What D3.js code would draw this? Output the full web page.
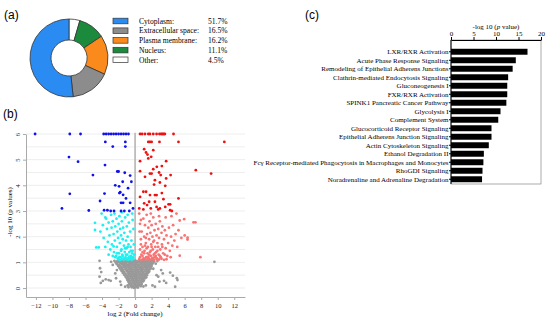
<!DOCTYPE html>
<html>
<head>
<meta charset="utf-8">
<script src="https://cdn.jsdelivr.net/npm/d3@7"></script>
<style>
  body { margin: 0; background: #fff; }
  svg { display: block; font-family: "Liberation Serif", "Times New Roman", serif; }
  .panel-label { font-family: "Liberation Sans", Arial, sans-serif; font-size: 12px; }
</style>
</head>
<body>
<svg id="chart" width="550" height="324"></svg>
<script>
// ---- data ----
// (a) subcellular location
var locNames = ["Cytoplasm:", "Extracellular space:", "Plasma membrane:", "Nucleus:", "Other:"];
var locValues = [51.7, 16.5, 16.2, 11.1, 4.5];
var locColors = ["#2a8bf2", "#8c8c8c", "#fb8a1c", "#1b8a3c", "#ffffff"];

// (b) volcano plot, [log2 fold change, -log10 p]
var upStrong = [[0.6,6],[0.85,6],[1.2,6],[1.6,6],[1.8,6],[2.2,6],[2.6,6],[2.95,6],[3.15,6],[3.3,6],[3.45,6],[3.6,6],[4.65,6],
  [1.6,5.69],[1.8,5.69],[2.0,5.69],[2.95,5.69],[5.25,5.69],[10.8,5.69],[1.1,5.41],[1.33,5.28],[1.5,5.2],[2.2,5.37],
  [1.95,5.11],[1.6,5.05],[3.76,4.94],[3.24,4.75],[2.63,4.72],[0.6,4.94],[0.6,4.55],[2.2,4.63],[1.8,4.46],[2.0,4.46],
  [2.9,4.5],[3.1,4.4],[4.3,4.4],[7.35,4.59],[9.2,4.46],[1.2,4.33],[3.76,4.27],[2.4,4.2],[2.3,4.03],[3.0,4.11],[3.65,3.98],
  [1.0,3.75],[1.33,3.75],[1.8,3.62],[2.4,3.62],[2.6,3.62],[0.6,3.55],[3.24,3.7],[3.43,3.46],[5.25,3.49],[1.1,3.3],
  [1.45,3.23],[1.7,3.36],[2.4,3.36],[2.6,3.16],[3.0,3.1],[2.8,3.06],[4.05,3.26],[4.24,3.26],[3.65,3.16],[0.5,3.1],
  [1.0,3.06],[1.9,3.1],[4.24,3.03],[4.45,3.0]];
var upWeak = [[0.5,2.9],[0.6,2.5],[0.7,1.9],[0.75,1.3],[0.8,2.2],[0.9,1.6],[1.0,2.7],[1.05,1.15],[1.1,2.0],[1.15,1.45],
  [1.2,2.45],[1.3,1.75],[1.35,1.2],[1.4,2.85],[1.45,2.1],[1.5,1.35],[1.55,1.6],[1.6,2.35],[1.65,1.15],[1.7,1.9],[1.75,2.6],
  [1.8,1.4],[1.85,2.15],[1.9,1.25],[1.95,1.7],[2.0,2.45],[2.05,1.15],[2.1,2.0],[2.15,1.5],[2.2,2.75],[2.25,1.3],[2.3,1.85],
  [2.35,2.25],[2.4,1.2],[2.45,1.6],[2.5,2.5],[2.55,1.4],[2.6,2.05],[2.65,1.15],[2.7,1.75],[2.8,2.3],[2.85,1.3],[2.9,1.95],
  [3.0,2.6],[3.05,1.5],[3.1,1.2],[3.2,2.15],[3.25,1.7],[3.3,2.4],[3.4,1.35],[3.5,1.9],[3.6,2.25],[3.7,1.55],[3.8,2.05],
  [3.9,1.25],[4.0,1.75],[4.1,2.35],[4.2,1.45],[4.35,2.0],[4.5,1.65],[4.6,2.45],[4.75,1.85],[4.9,2.1],[5.1,1.6],[5.25,2.25],
  [5.4,2.63],[5.4,1.26],[5.6,1.95],[5.94,2.68],[6.0,2.05],[6.35,1.96],[6.35,1.89],[7.07,2.56],[7.3,2.56],[7.9,1.2],
  [0.5,1.12],[0.8,1.1],[1.0,1.13],[1.25,1.11],[1.5,1.14],[1.75,1.1],[2.0,1.12],[2.3,1.1],[2.6,1.13],[2.9,1.11],[3.2,1.14],
  [3.5,1.1],[3.8,1.12],[0.6,1.5],[0.9,1.25],[1.2,1.65],[1.7,1.3],[2.2,1.8],[2.7,1.45],[3.3,1.6],[3.6,1.3],[4.3,1.2],
  [0.55,2.2],[0.7,2.65],[1.9,2.9],[2.9,2.8],[4.4,2.8],[5.0,2.9],[3.7,2.75],[0.6,1.2],[1.1,1.35],[1.4,1.55],[1.9,1.45],
  [2.4,1.35],[2.8,1.6],[3.0,1.25],[0.7,1.7],[1.3,1.95],[2.0,1.6],[2.5,1.25],[1.6,1.22],[2.2,1.18],[0.9,1.4]];
var downStrong = [[-12.1,6],[-7.9,6],[-6.6,6],[-3.8,6],[-3.5,6],[-3.2,6],[-2.9,6],[-2.6,6],[-2.3,6],[-2.0,6],[-1.7,6],
  [-1.4,6],[-1.1,6],[-0.8,6],[-3.6,5.69],[-1.18,5.69],[-1.18,5.51],[-2.7,5.51],[-8.0,5.1],[-6.9,4.92],[-3.64,4.79],
  [-2.15,4.54],[-2.0,4.54],[-1.25,4.49],[-0.6,4.38],[-5.1,4.4],[-1.5,4.14],[-0.45,4.14],[-2.4,4.0],[-1.94,3.96],
  [-0.85,3.89],[-1.8,3.73],[-1.9,3.7],[-7.9,3.67],[-3.7,3.68],[-1.45,3.63],[-1.1,3.49],[-4.24,3.39],[-1.7,3.32],
  [-1.45,3.32],[-0.6,3.32],[-8.85,3.1],[-5.6,3.02],[-3.75,3.03],[-3.35,3.03],[-2.95,3.0],[-2.55,3.0],[-1.7,3.0],
  [-1.3,3.0],[-0.25,3.1],[-0.7,3.0]];
var downWeak = [[-4.85,2.54],[-4.85,2.26],[-4.7,1.58],[-4.4,1.58],[-4.2,2.2],[-3.9,2.45],[-3.8,1.95],[-3.6,1.6],[-3.5,2.7],
  [-3.4,2.3],[-3.3,1.8],[-3.2,2.55],[-3.1,2.05],[-3.0,1.5],[-2.9,2.85],[-2.85,2.35],[-2.8,1.7],[-2.7,2.6],[-2.6,2.1],
  [-2.55,1.4],[-2.5,2.9],[-2.45,1.85],[-2.4,2.4],[-2.3,1.25],[-2.25,2.7],[-2.2,1.6],[-2.15,2.2],[-2.1,1.15],[-2.05,1.95],
  [-2.0,2.5],[-1.95,1.35],[-1.9,2.8],[-1.85,1.75],[-1.8,2.3],[-1.75,1.2],[-1.7,2.05],[-1.65,1.5],[-1.6,2.6],[-1.55,1.3],
  [-1.5,1.9],[-1.45,2.35],[-1.4,1.15],[-1.35,1.65],[-1.3,2.15],[-1.25,1.4],[-1.2,2.75],[-1.15,1.2],[-1.1,1.85],
  [-1.05,1.55],[-1.0,2.4],[-0.95,1.3],[-0.9,2.0],[-0.85,1.15],[-0.8,1.7],[-0.75,2.55],[-0.7,1.4],[-0.65,1.2],[-0.6,2.2],
  [-0.55,1.6],[-0.5,1.25],[-0.45,1.85],[-0.4,1.15],[-0.35,2.9],[-0.3,1.45],[-0.25,1.2],[-0.2,2.3],[-0.15,1.7],[-0.1,1.3],
  [-2.0,1.12],[-1.8,1.1],[-1.6,1.13],[-1.4,1.11],[-1.2,1.14],[-1.0,1.12],[-0.8,1.1],[-0.6,1.13],[-0.4,1.11],[-0.2,1.14],
  [-2.4,1.2],[-2.6,1.62],[-3.6,2.75],[-4.05,2.9],[-1.6,2.95],[-0.9,2.85],[-0.3,2.65],[-1.9,1.2],[-1.5,1.25],[-1.1,1.3],
  [-0.7,1.22],[-0.35,1.35],[-2.2,1.35],[-1.7,1.45],[-1.2,1.55],[-0.5,1.45],[-2.7,1.25],[-3.2,1.3],[-0.9,1.6]];
var notSig = [
  [-2.5,1.06],[-2.2,1.04],[-1.95,1.07],[-1.7,1.05],[-1.45,1.07],[-1.2,1.04],[-0.95,1.06],[-0.7,1.04],[-0.45,1.07],[-0.2,1.05],
  [0.05,1.07],[0.3,1.04],[0.55,1.06],[0.8,1.05],[1.05,1.07],[1.3,1.04],[1.55,1.06],[1.8,1.05],[2.05,1.07],[2.3,1.04],
  [-2.35,0.99],[-2.05,1.01],[-1.8,0.98],[-1.55,1.0],[-1.3,0.98],[-1.05,1.01],[-0.8,0.99],[-0.55,1.0],[-0.3,0.98],[-0.05,1.01],
  [0.2,0.99],[0.45,1.0],[0.7,0.98],[0.95,1.01],[1.2,0.99],[1.45,1.0],[1.7,0.98],[1.95,1.01],[2.2,0.99],
  [-2.2,0.93],[-1.9,0.91],[-1.6,0.94],[-1.35,0.92],[-1.1,0.94],[-0.85,0.91],[-0.6,0.93],[-0.35,0.95],[-0.1,0.92],[0.15,0.94],
  [0.4,0.91],[0.65,0.93],[0.9,0.95],[1.15,0.92],[1.4,0.94],[1.65,0.91],[1.9,0.93],[2.1,0.95],
  [-2.05,0.86],[-1.75,0.84],[-1.45,0.87],[-1.2,0.85],[-0.95,0.87],[-0.7,0.84],[-0.45,0.86],[-0.2,0.88],[0.05,0.85],[0.3,0.87],
  [0.55,0.84],[0.8,0.86],[1.05,0.88],[1.3,0.85],[1.55,0.87],[1.8,0.84],[2.0,0.86],
  [-1.9,0.79],[-1.6,0.77],[-1.3,0.8],[-1.05,0.78],[-0.8,0.8],[-0.55,0.77],[-0.3,0.79],[-0.05,0.81],[0.2,0.78],[0.45,0.8],
  [0.7,0.77],[0.95,0.79],[1.2,0.81],[1.45,0.78],[1.7,0.8],[1.9,0.77],
  [-1.75,0.72],[-1.45,0.7],[-1.15,0.73],[-0.9,0.71],[-0.65,0.73],[-0.4,0.7],[-0.15,0.72],[0.1,0.74],[0.35,0.71],[0.6,0.73],
  [0.85,0.7],[1.1,0.72],[1.35,0.74],[1.6,0.71],[1.8,0.73],
  [-1.6,0.65],[-1.3,0.63],[-1.0,0.66],[-0.75,0.64],[-0.5,0.66],[-0.25,0.63],[0.0,0.65],[0.25,0.67],[0.5,0.64],[0.75,0.66],
  [1.0,0.63],[1.25,0.65],[1.5,0.67],[1.7,0.64],
  [-1.45,0.58],[-1.15,0.56],[-0.85,0.59],[-0.6,0.57],[-0.35,0.59],[-0.1,0.56],[0.15,0.58],[0.4,0.6],[0.65,0.57],[0.9,0.59],
  [1.15,0.56],[1.4,0.58],[1.6,0.6],
  [-1.3,0.51],[-1.0,0.49],[-0.75,0.52],[-0.5,0.5],[-0.25,0.52],[0.0,0.49],[0.25,0.51],[0.5,0.53],[0.75,0.5],[1.0,0.52],
  [1.25,0.49],[1.45,0.51],
  [-1.15,0.44],[-0.85,0.42],[-0.6,0.45],[-0.35,0.43],[-0.1,0.45],[0.15,0.42],[0.4,0.44],[0.65,0.46],[0.9,0.43],[1.15,0.45],
  [1.35,0.42],
  [-1.0,0.37],[-0.75,0.35],[-0.5,0.38],[-0.25,0.36],[0.0,0.38],[0.25,0.35],[0.5,0.37],[0.75,0.39],[1.0,0.36],[1.2,0.38],
  [-0.9,0.3],[-0.65,0.28],[-0.4,0.31],[-0.15,0.29],[0.1,0.31],[0.35,0.28],[0.6,0.3],[0.85,0.32],[1.05,0.29],
  [-0.8,0.23],[-0.55,0.21],[-0.3,0.24],[-0.05,0.22],[0.2,0.24],[0.45,0.21],[0.7,0.23],[0.95,0.25],
  [-0.7,0.16],[-0.45,0.14],[-0.2,0.17],[0.05,0.15],[0.3,0.17],[0.55,0.14],[0.8,0.16],
  [-0.55,0.09],[-0.3,0.07],[-0.05,0.1],[0.2,0.08],[0.45,0.1],[0.7,0.07],
  [-0.4,0.03],[-0.15,0.01],[0.1,0.03],[0.35,0.02],[-1.2,0.05],[-0.9,0.1],[1.0,0.06],[1.3,0.1],
  [-4.3,1.06],[-4.24,0.77],[-4.1,0.62],[-4.3,0.44],[-3.9,0.28],[-4.15,0.2],[-3.55,0.34],[-3.2,0.31],[-2.95,0.28],
  [-2.4,0.57],[-2.3,0.38],[-1.8,0.25],[-1.7,0.12],[-0.8,0.03],[9.6,1.02],[3.15,0.7],[3.35,0.57],[4.24,0.6],[4.57,0.48],
  [3.5,0.28],[3.76,0.2],[5.05,0.38],[5.13,0.31],[4.85,0.05],[2.6,0.5],[2.8,0.44],[2.95,0.25],[2.1,0.1],[2.4,0.05],
  [-2.7,0.9],[-2.9,1.02],[2.5,0.95],[2.7,1.05],[-2.2,0.7],[2.2,0.75]];
var fcTicks = [-12, -10, -8, -6, -4, -2, 0, 2, 4, 6, 8, 10, 12];
var pTicks = [0, 1, 2, 3, 4, 5, 6];

// (c) canonical pathways
var pathways = ["LXR/RXR Activation", "Acute Phase Response Signaling", "Remodeling of Epithelial Adherens Junctions",
  "Clathrin-mediated Endocytosis Signaling", "Gluconeogenesis I", "FXR/RXR Activation", "SPINK1 Pancreatic Cancer Pathway",
  "Glycolysis I", "Complement System", "Glucocorticoid Receptor Signaling", "Epithelial Adherens Junction Signaling",
  "Actin Cytoskeleton Signaling", "Ethanol Degradation II", "Fcγ Receptor-mediated Phagocytosis in Macrophages and Monocytes",
  "RhoGDI Signaling", "Noradrenaline and Adrenaline Degradation"];
var pathwayValues = [17.0, 14.4, 13.7, 12.7, 12.5, 12.5, 12.3, 11.0, 10.5, 9.0, 9.0, 8.4, 7.3, 7.2, 7.0, 6.9];
var pvTicks = [0, 5, 10, 15, 20];

var svg = d3.select("#chart");

// ---- panel labels ----
svg.append("text").attr("class", "panel-label").attr("x", 4).attr("y", 19).text("(a)");
svg.append("text").attr("class", "panel-label").attr("x", 3).attr("y", 118).text("(b)");
svg.append("text").attr("class", "panel-label").attr("x", 305).attr("y", 19).text("(c)");

// ---- (a) donut ----
var donut = svg.append("g").attr("transform", "translate(69,58)");
var order = d3.range(locValues.length).reverse();
var pie = d3.pie().sort(null).value(function(i) { return locValues[i]; });
var arc = d3.arc().innerRadius(18).outerRadius(39);
donut.selectAll("path")
    .data(pie(order))
    .enter().append("path")
    .attr("d", arc)
    .attr("fill", function(d) { return locColors[d.data]; })
    .attr("stroke", "#333")
    .attr("stroke-width", 0.8);

var legend = svg.append("g").attr("transform", "translate(113,21)");
var legRow = legend.selectAll("g")
    .data(locNames)
    .enter().append("g")
    .attr("transform", function(d, i) { return "translate(0," + (i * 9.7) + ")"; });
legRow.append("rect")
    .attr("x", 0).attr("y", -2.8).attr("width", 15).attr("height", 5.6)
    .attr("fill", function(d, i) { return locColors[i]; })
    .attr("stroke", "#333").attr("stroke-width", 0.7);
legRow.append("text")
    .attr("x", 26).attr("y", 2.7)
    .style("font-size", "7.6px")
    .text(function(d) { return d; });
legRow.append("text")
    .attr("x", 95).attr("y", 2.7)
    .style("font-size", "7.6px")
    .text(function(d, i) { return locValues[i].toFixed(1) + "%"; });

// ---- (b) volcano ----
var x = d3.scaleLinear().domain([-13.2, 13.3]).range([26, 245]);
var y = d3.scaleLinear().domain([-0.35, 6]).range([297, 134]);

var volcano = svg.append("g");
// grid every 0.5
volcano.selectAll("line.grid")
    .data(d3.range(0, 6.01, 0.5))
    .enter().append("line")
    .attr("class", "grid")
    .attr("x1", x(-13.2)).attr("x2", x(13.3))
    .attr("y1", function(d) { return y(d); }).attr("y2", function(d) { return y(d); })
    .attr("stroke", "#e6e6e6").attr("stroke-width", 0.7);

// zero line
volcano.append("line")
    .attr("x1", x(0)).attr("x2", x(0))
    .attr("y1", y(6.05)).attr("y2", y(-0.35))
    .attr("stroke", "#b5b5b5").attr("stroke-width", 1.6);

var xAxis = volcano.append("g")
    .attr("transform", "translate(0,297)")
    .call(d3.axisBottom(x).tickValues(fcTicks).tickSize(3).tickSizeOuter(0));
var yAxis = volcano.append("g")
    .attr("transform", "translate(26,0)")
    .call(d3.axisLeft(y).tickValues(pTicks).tickFormat(d3.format("d")).tickSize(3).tickSizeOuter(0));
[xAxis, yAxis].forEach(function(a) {
  a.select(".domain").attr("stroke", "#aaa");
  a.selectAll(".tick line").attr("stroke", "#aaa");
  a.selectAll("text").style("font-family", "Liberation Serif, serif").style("font-size", "6.5px").attr("fill", "#222");
});
yAxis.selectAll(".tick text")
    .attr("x", null).attr("dy", null)
    .attr("text-anchor", "middle")
    .attr("transform", "translate(-6,0) rotate(-90)");

function dots(data, color) {
  volcano.append("g").selectAll("circle")
    .data(data)
    .enter().append("circle")
    .attr("cx", function(d) { return x(d[0]); })
    .attr("cy", function(d) { return y(d[1]); })
    .attr("r", 1.4)
    .attr("fill", color);
}
dots(notSig, "#999999");
dots(downWeak, "#1ef0f0");
dots(upWeak, "#f87474");
dots(downStrong, "#1010ee");
dots(upStrong, "#ee1111");

volcano.append("text")
    .attr("x", 135).attr("y", 316)
    .attr("text-anchor", "middle")
    .style("font-size", "7px")
    .text("log 2 (Fold change)");
volcano.append("text")
    .attr("transform", "translate(12,212) rotate(-90)")
    .attr("text-anchor", "middle")
    .style("font-size", "7px")
    .text("-log 10 (p values)");

// ---- (c) pathways ----
var bx = d3.scaleLinear().domain([0, 20]).range([451, 541]);
var by = d3.scaleBand().domain(pathways).range([47.5, 183.5]).paddingInner(0.3).paddingOuter(0.15);

var bars = svg.append("g");
bars.append("rect")
    .attr("x", bx(0)).attr("y", 40)
    .attr("width", bx(20) - bx(0)).attr("height", 144)
    .attr("fill", "none").attr("stroke", "#888").attr("stroke-width", 0.7);

bars.selectAll("rect.bar")
    .data(pathwayValues)
    .enter().append("rect")
    .attr("class", "bar")
    .attr("x", bx(0))
    .attr("y", function(d, i) { return by(pathways[i]); })
    .attr("width", function(d) { return bx(d) - bx(0); })
    .attr("height", by.bandwidth())
    .attr("fill", "#000");

var topAxis = bars.append("g")
    .attr("transform", "translate(0,40)")
    .call(d3.axisTop(bx).tickValues(pvTicks).tickSize(3).tickSizeOuter(0));
var leftAxis = bars.append("g")
    .attr("transform", "translate(451,0)")
    .call(d3.axisLeft(by).tickSize(2).tickSizeOuter(0));
leftAxis.select(".domain").attr("d", "M0,40V184");
[topAxis, leftAxis].forEach(function(a) {
  a.selectAll("text").style("font-family", "Liberation Serif, serif").style("font-size", "7px").attr("fill", "#000");
});
leftAxis.selectAll(".tick text").attr("x", -2.5);
topAxis.selectAll(".tick text").attr("y", -4);

var title = bars.append("text")
    .attr("x", 496).attr("y", 29)
    .attr("text-anchor", "middle")
    .style("font-size", "7px");
title.append("tspan").text("-log 10 (");
title.append("tspan").style("font-style", "italic").text("p");
title.append("tspan").text(" value)");
</script>
</body>
</html>
